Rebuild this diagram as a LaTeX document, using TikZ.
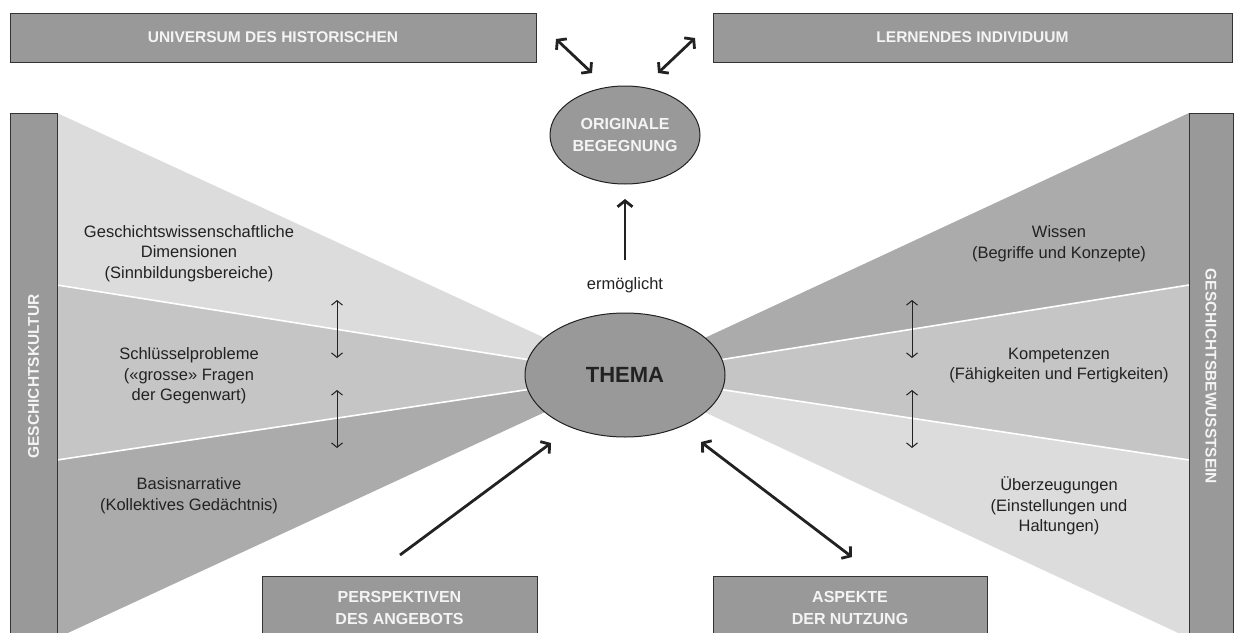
\documentclass[tikz,border=0pt]{standalone}
\usepackage{fontspec}
\setmainfont{Liberation Sans}
\usetikzlibrary{arrows.meta,shapes.geometric}
\definecolor{boxgray}{HTML}{999999}
\definecolor{wlight}{HTML}{DCDCDC}
\definecolor{wmid}{HTML}{C5C5C5}
\definecolor{wdark}{HTML}{ABABAB}
\definecolor{edgec}{HTML}{333333}
\definecolor{ink}{HTML}{222222}
\definecolor{capw}{HTML}{F4F4F4}
\begin{document}
\begin{tikzpicture}[x=1pt,y=-1pt,
  graybox/.style={draw=edgec, fill=boxgray, line width=1pt, inner sep=0pt, text=capw,
    font=\bfseries\fontsize{15.5}{22}\selectfont, align=center},
  lowbox/.style={graybox, font=\bfseries\fontsize{16}{22}\selectfont},
  oval/.style={ellipse, draw=ink, fill=boxgray, line width=1pt, inner sep=0pt, align=center},
  body/.style={text=ink, font=\fontsize{16.5}{20.5}\selectfont, align=center, inner sep=0pt},
  bigarrow/.style={draw=ink, line width=2.8pt},
  bothtips/.style={{Straight Barb[length=6pt,width=15pt]}-{Straight Barb[length=6pt,width=15pt]}},
  onetip/.style={-{Straight Barb[length=6pt,width=15pt]}},
  thinarrow/.style={draw=ink, line width=1pt,
    {Straight Barb[length=4.5pt,width=11pt]}-{Straight Barb[length=4.5pt,width=11pt]}},
  sepline/.style={draw=white, line width=1.6pt}]
\clip (0,0) rectangle (1234,632);
% wedge geometry
\coordinate (apex) at (625,375);
\coordinate (L0) at (57,113);
\coordinate (L1) at (57,285);
\coordinate (L2) at (57,460);
\coordinate (L3) at (57,638);
\coordinate (R0) at (1189,113);
\coordinate (R1) at (1189,285);
\coordinate (R2) at (1189,460);
\coordinate (R3) at (1189,638);
\fill[wlight] (L0) -- (L1) -- (apex) -- cycle;
\fill[wmid] (L1) -- (L2) -- (apex) -- cycle;
\fill[wdark] (L2) -- (L3) -- (apex) -- cycle;
\fill[wdark] (R0) -- (R1) -- (apex) -- cycle;
\fill[wmid] (R1) -- (R2) -- (apex) -- cycle;
\fill[wlight] (R2) -- (R3) -- (apex) -- cycle;
\draw[sepline] (L1) -- (apex);
\draw[sepline] (L2) -- (apex);
\draw[sepline] (R1) -- (apex);
\draw[sepline] (R2) -- (apex);
% bars and boxes
\node[graybox, rotate=90, minimum width=527, minimum height=47] (kultur) at (33.5,376.5) {GESCHICHTSKULTUR};
\node[graybox, rotate=-90, minimum width=527, minimum height=44] (bewusst) at (1211,376.5) {GESCHICHTSBEWUSSTSEIN};
\node[graybox, minimum width=526, minimum height=49] (univ) at (273,37.5) {UNIVERSUM DES HISTORISCHEN};
\node[graybox, minimum width=519, minimum height=49] (lern) at (972.5,37.5) {LERNENDES INDIVIDUUM};
\node[lowbox, minimum width=275, minimum height=64] (persp) at (399.5,608) {PERSPEKTIVEN\\DES ANGEBOTS};
\node[lowbox, minimum width=274, minimum height=64] (asp) at (850,608) {ASPEKTE\\DER NUTZUNG};
% ellipses
\node[oval, minimum width=150, minimum height=98, text=capw,
  font=\bfseries\fontsize{16}{22}\selectfont] (orig) at (625,135) {ORIGINALE\\BEGEGNUNG};
\node[oval, minimum width=200, minimum height=124, text=ink,
  font=\bfseries\fontsize{22}{26}\selectfont] (thema) at (625,375) {THEMA};
% texts
\node[body] (erm) at (625,285) {ermöglicht};
\node[body] (gw) at (189,253.5) {Geschichtswissenschaftliche\\Dimensionen\\(Sinnbildungsbereiche)};
\node[body] (sp) at (189,376) {Schlüsselprobleme\\(«grosse» Fragen\\der Gegenwart)};
\node[body] (bn) at (189,495.5) {Basisnarrative\\(Kollektives Gedächtnis)};
\node[body] (wi) at (1059,243.5) {Wissen\\(Begriffe und Konzepte)};
\node[body] (ko) at (1059,365.5) {Kompetenzen\\(Fähigkeiten und Fertigkeiten)};
\node[body] (ue) at (1059,506) {Überzeugungen\\(Einstellungen und\\Haltungen)};
% big arrows
\coordinate (a1s) at (556,39);
\coordinate (a1e) at (592,73);
\coordinate (a2s) at (658,73);
\coordinate (a2e) at (695,38);
\coordinate (upS) at (625,260);
\coordinate (upE) at (625,199);
\coordinate (pS) at (400,555);
\coordinate (pE) at (551,443);
\coordinate (nS) at (701,442);
\coordinate (nE) at (852,557);
\draw[bigarrow, bothtips] (a1s) -- (a1e);
\draw[bigarrow, bothtips] (a2s) -- (a2e);
\draw[bigarrow, onetip] (upS) -- (upE);
\draw[bigarrow, onetip] (pS) -- (pE);
\draw[bigarrow, bothtips] (nS) -- (nE);
% small arrows
\coordinate (s1a) at (337,300); \coordinate (s1b) at (337,358);
\coordinate (s2a) at (337,390); \coordinate (s2b) at (337,448);
\coordinate (s3a) at (912,300); \coordinate (s3b) at (912,358);
\coordinate (s4a) at (912,390); \coordinate (s4b) at (912,448);
\draw[thinarrow] (s1a) -- (s1b);
\draw[thinarrow] (s2a) -- (s2b);
\draw[thinarrow] (s3a) -- (s3b);
\draw[thinarrow] (s4a) -- (s4b);
\end{tikzpicture}
\end{document}
